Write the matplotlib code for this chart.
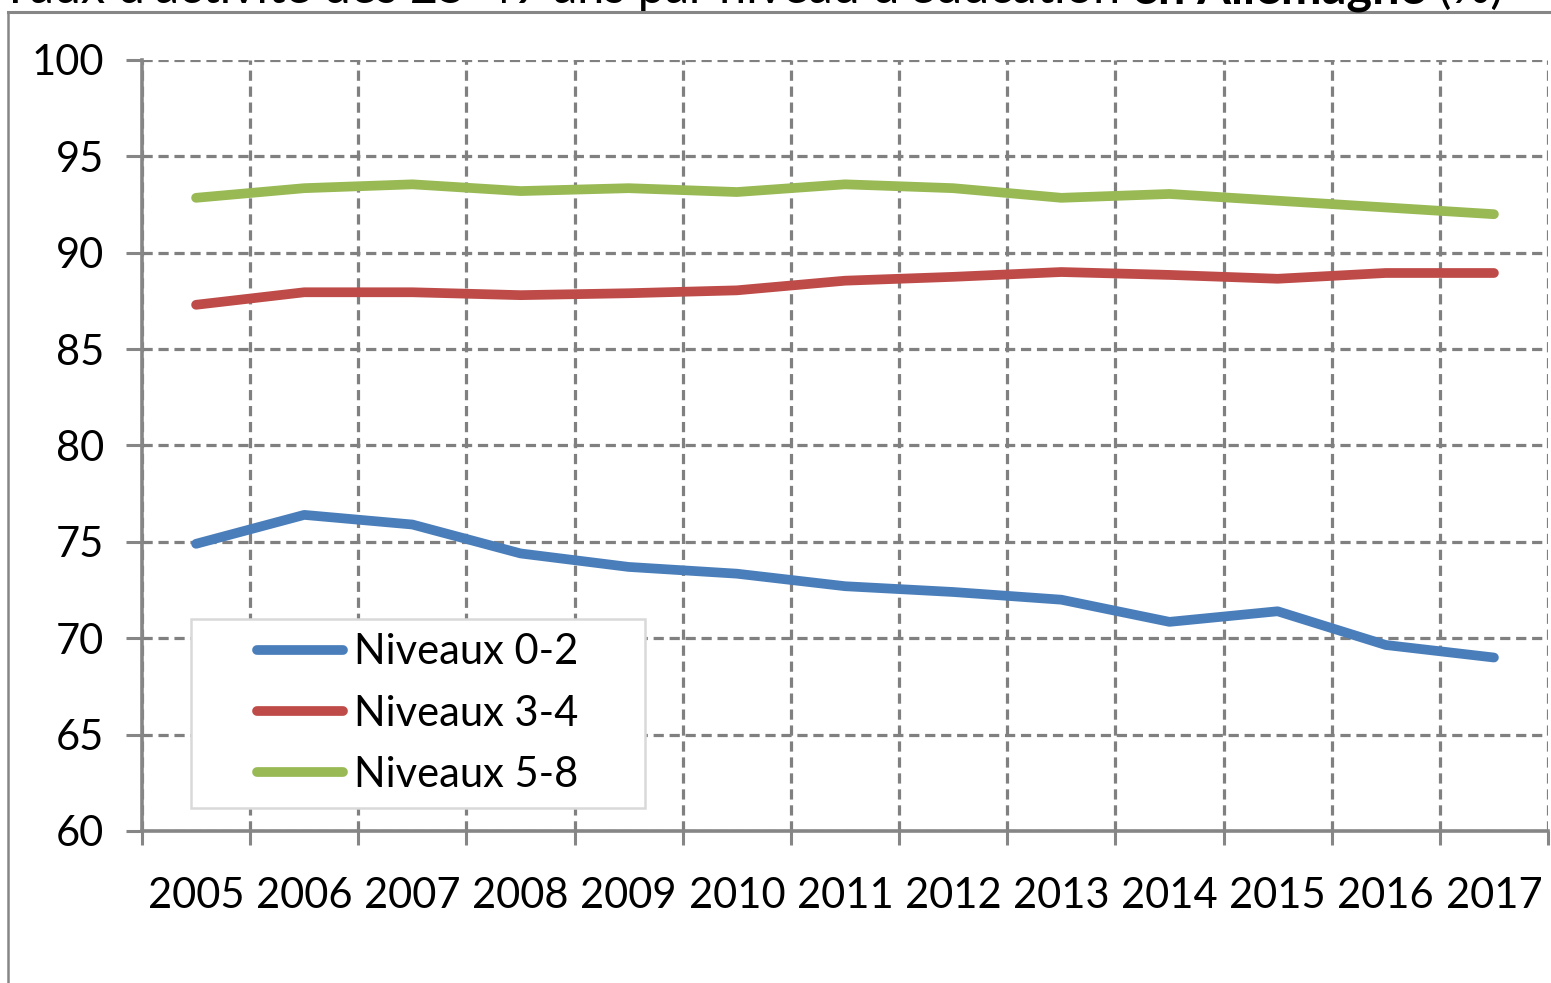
import matplotlib
matplotlib.use("Agg")
import matplotlib.pyplot as plt
from matplotlib.patches import Rectangle

# data
years = ["2005", "2006", "2007", "2008", "2009", "2010", "2011",
         "2012", "2013", "2014", "2015", "2016", "2017"]
niv_0_2 = [74.9, 76.4, 75.9, 74.4, 73.7, 73.35, 72.7, 72.4, 72.0, 70.85, 71.4, 69.65, 69.0]
niv_3_4 = [87.3, 87.95, 87.95, 87.8, 87.9, 88.05, 88.55, 88.75, 89.0, 88.85, 88.65, 88.95, 88.95]
niv_5_8 = [92.85, 93.35, 93.55, 93.2, 93.35, 93.15, 93.55, 93.35, 92.85, 93.05, 92.7, 92.35, 92.0]
labels = ["Niveaux 0-2", "Niveaux 3-4", "Niveaux 5-8"]
colors = ["#4A7EBB", "#BE4B48", "#98B954"]

plt.rcParams["font.family"] = ["Lato", "DejaVu Sans"]
FS = 30
W, H = 1551, 983
fig = plt.figure(figsize=(W / 100, H / 100), dpi=100)

# chart area border (left and top edges visible)
fig.add_artist(plt.Line2D([8 / W, 8 / W], [0, 1 - 12 / H], transform=fig.transFigure,
                          color="#868686", lw=1.8))
fig.add_artist(plt.Line2D([8 / W, 1], [1 - 12 / H, 1 - 12 / H], transform=fig.transFigure,
                          color="#868686", lw=2.2))

x0, x1, y0, y1 = 142, 1548, 831, 60
ax = fig.add_axes([x0 / W, 1 - y0 / H, (x1 - x0) / W, (y0 - y1) / H])
x = list(range(len(years)))
for vals, lab, col in zip([niv_0_2, niv_3_4, niv_5_8], labels, colors):
    ax.plot(x, vals, color=col, lw=7, label=lab, solid_capstyle="round",
            solid_joinstyle="round", zorder=3)

ax.set_xlim(-0.5, len(years) - 0.5)
ax.set_ylim(60, 100)
ax.set_yticks(range(60, 101, 5))
ax.set_xticks(x)
ax.set_xticklabels(years)
ax.set_xticks([i - 0.5 for i in range(len(years) + 1)], minor=True)
ax.tick_params(axis="x", which="major", length=0, pad=33, labelsize=FS)
ax.tick_params(axis="x", which="minor", length=10, width=2.2, color="#868686", direction="out")
ax.tick_params(axis="y", length=11.5, width=2.2, color="#868686", pad=16, labelsize=FS)
ax.grid(True, axis="y", which="major", color="#808080", ls=(0, (3.2, 1.8)), lw=2.3)
ax.grid(True, axis="x", which="minor", color="#808080", ls=(0, (3.2, 1.8)), lw=2.3)
for s in ["top", "right"]:
    ax.spines[s].set_visible(False)
for s in ["left", "bottom"]:
    ax.spines[s].set_color("#868686")
    ax.spines[s].set_linewidth(2.6)
    ax.spines[s].set_zorder(4)

# legend box drawn as a rectangle, entries centred inside it
lx0, lx1, ly0, ly1 = 191, 645, 808, 619
box = Rectangle(((lx0 - x0) / (x1 - x0), (y0 - ly0) / (y0 - y1)),
                (lx1 - lx0) / (x1 - x0), (ly0 - ly1) / (y0 - y1),
                transform=ax.transAxes, facecolor="white", edgecolor="#D9D9D9",
                lw=1.8, zorder=5)
ax.add_patch(box)
leg = ax.legend(loc="center", bbox_to_anchor=(((lx0 + lx1) / 2 - x0) / (x1 - x0),
                                              (y0 - (ly0 + ly1) / 2) / (y0 - y1)),
                fontsize=FS, frameon=False, handlelength=2.05, handletextpad=0.28,
                borderpad=0, labelspacing=0.56, borderaxespad=0)
leg.set_zorder(6)

# title, cut off at the top edge of the picture
fig.canvas.draw()
r = fig.canvas.get_renderer()
parts = [("Taux d'activité des 25-49 ans par niveau d'éducation ", "normal"),
         ("en Allemagne", "bold"), (" (%)", "normal")]
ty = 1 - 3 / H
texts = []
xpos = 0
for s, w in parts:
    t = fig.text(xpos, ty, s, fontsize=35, fontweight=w, va="baseline", ha="left")
    bb = t.get_window_extent(r)
    xpos += bb.width / W
    texts.append(t)
shift = (1503 / W) - xpos
for t in texts:
    t.set_x(t.get_position()[0] + shift)

fig.savefig("out.png", dpi=100)
